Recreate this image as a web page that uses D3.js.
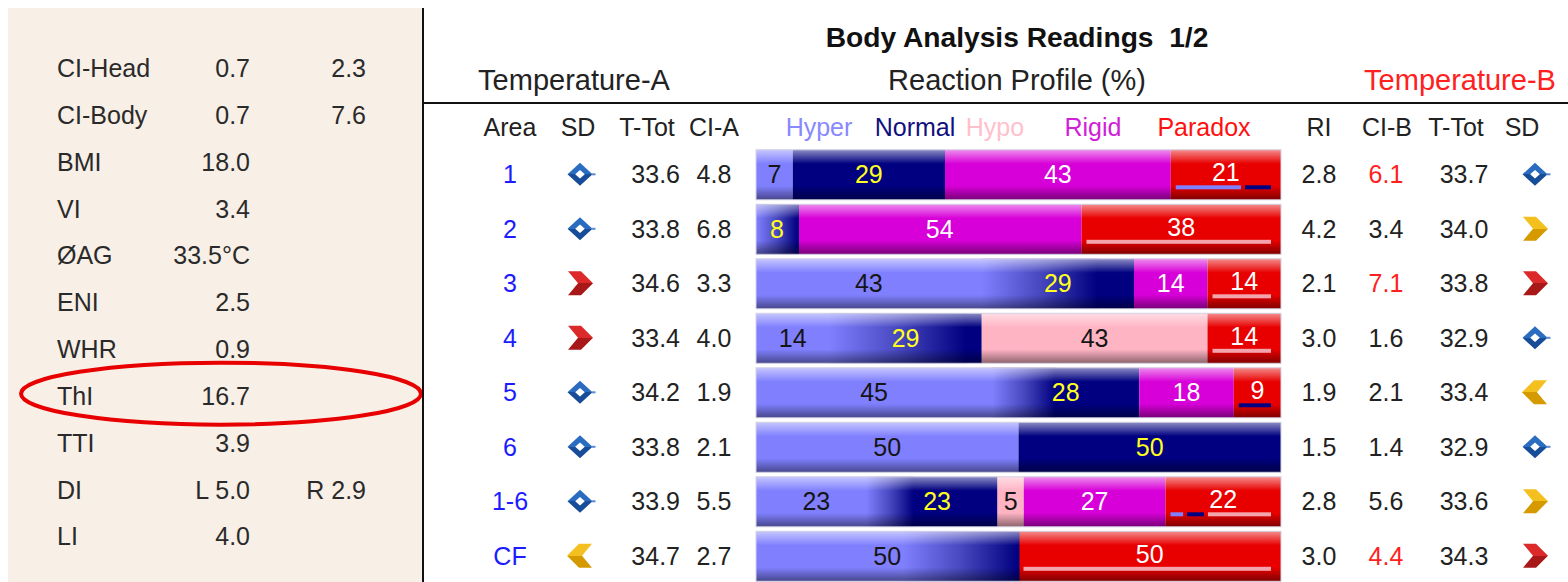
<!DOCTYPE html>
<html>
<head>
<meta charset="utf-8">
<script src="https://cdn.jsdelivr.net/npm/d3@7"></script>
<style>
html,body{margin:0;padding:0;background:#fff;}
svg{display:block;font-family:"Liberation Sans",Arial,sans-serif;}
</style>
</head>
<body>
<svg id="chart" width="1568" height="582"></svg>
<script>
// ---------- data ----------
const areas = ["1","2","3","4","5","6","1-6","CF"];
const sdA = ["diamond","diamond","redRight","redRight","diamond","diamond","diamond","yellowLeft"];
const tTotA = [33.6,33.8,34.6,33.4,34.2,33.8,33.9,34.7];
const ciA = [4.8,6.8,3.3,4.0,1.9,2.1,5.5,2.7];

const categories = ["Hyper","Normal","Hypo","Rigid","Paradox"];
const hyper   = [7,0,43,14,45,50,23,50];
const normal  = [29,8,29,29,28,50,23,0];
const hypo    = [0,0,0,43,0,0,5,0];
const rigid   = [43,54,14,0,18,0,27,0];
const paradox = [21,38,14,14,9,0,22,50];
// composition of the paradox share (underline markers)
const paradoxHyper  = [15,0,0,0,0,0,3,0];
const paradoxNormal = [6,0,0,0,9,0,4,0];
const paradoxOther  = [0,38,14,14,0,0,15,50];
// Hyper -> Normal transition zone (percent scale)
const blendStart = [null,0,43,14,45,null,21,28];
const blendEnd   = [null,8,65,40,57,null,30,50];

const ri   = [2.8,4.2,2.1,3.0,1.9,1.5,2.8,3.0];
const ciB  = [6.1,3.4,7.1,1.6,2.1,1.4,5.6,4.4];
const ciBFlag = [1,0,1,0,0,0,0,1];
const tTotB = [33.7,34.0,33.8,32.9,33.4,32.9,33.6,34.3];
const sdB = ["diamond","yellowRight","redRight","diamond","yellowLeft","diamond","yellowRight","redRight"];

const sideLabels = ["CI-Head","CI-Body","BMI","VI","ØAG","ENI","WHR","ThI","TTI","DI","LI"];
const sideValues = ["0.7","0.7","18.0","3.4","33.5°C","2.5","0.9","16.7","3.9","L 5.0","4.0"];
const sideExtra  = ["2.3","7.6","","","","","","","","R 2.9",""];
const highlighted = "ThI";

// ---------- styles ----------
const segColor = {Hyper:"#8080ff", Normal:"#000080", Hypo:"#ffb4c4", Rigid:"#d800d8", Paradox:"#e80000"};
const headColor = {Hyper:"#8888ff", Normal:"#101080", Hypo:"#ffc0cc", Rigid:"#d020d8", Paradox:"#ff1010"};
const labColor = {Hyper:"#151515", Normal:"#ffff20", Hypo:"#151515", Rigid:"#ffffff", Paradox:"#ffffff"};
const txt = "#222";
const FS = 25;
const HFS = 29;

const svg = d3.select("#chart");
const defs = svg.append("defs");

// ---------- left panel ----------
svg.append("rect").attr("x",8).attr("y",8).attr("width",415).attr("height",574).attr("fill","#f8efe6");
const ySide = d3.scalePoint().domain(sideLabels).range([68.3,536.7]);
const side = svg.append("g").attr("font-size",FS).attr("fill","#2a2a2a");
side.selectAll("text.lab").data(sideLabels).join("text").attr("class","lab")
  .attr("x",57).attr("y",d=>ySide(d)+FS*0.35).text(d=>d);
side.selectAll("text.val").data(sideLabels).join("text").attr("class","val")
  .attr("x",250).attr("text-anchor","end").attr("y",d=>ySide(d)+FS*0.35).text((d,i)=>sideValues[i]);
side.selectAll("text.ext").data(sideLabels).join("text").attr("class","ext")
  .attr("x",366).attr("text-anchor","end").attr("y",d=>ySide(d)+FS*0.35).text((d,i)=>sideExtra[i]);
svg.append("ellipse").attr("cx",221).attr("cy",ySide(highlighted)-2.5).attr("rx",200).attr("ry",31)
  .attr("fill","none").attr("stroke","#e80000").attr("stroke-width",4);

// separators
svg.append("line").attr("x1",423).attr("x2",423).attr("y1",8).attr("y2",582).attr("stroke","#111").attr("stroke-width",2);
svg.append("line").attr("x1",423).attr("x2",1568).attr("y1",103).attr("y2",103).attr("stroke","#111").attr("stroke-width",2);

// ---------- headers ----------
svg.append("text").attr("x",1017).attr("y",38+27*0.35).attr("text-anchor","middle")
  .attr("font-size",28.2).attr("font-weight","bold").attr("fill","#111")
  .style("white-space","pre").text("Body Analysis Readings  1/2");
svg.append("text").attr("x",574).attr("y",80+HFS*0.35).attr("text-anchor","middle").attr("font-size",HFS).attr("fill",txt).text("Temperature-A");
svg.append("text").attr("x",1017).attr("y",80+HFS*0.35).attr("text-anchor","middle").attr("font-size",HFS).attr("fill",txt).text("Reaction Profile (%)");
svg.append("text").attr("x",1460).attr("y",80+HFS*0.35).attr("text-anchor","middle").attr("font-size",HFS).attr("fill","#ff2020").text("Temperature-B");

const hy = 127 + FS*0.35;
const colHeads = [
  {t:"Area",x:510},{t:"SD",x:578},{t:"T-Tot",x:647},{t:"CI-A",x:714},
  {t:"RI",x:1319},{t:"CI-B",x:1387},{t:"T-Tot",x:1456},{t:"SD",x:1522}
];
svg.append("g").attr("font-size",FS).attr("fill",txt).selectAll("text").data(colHeads).join("text")
  .attr("x",d=>d.x).attr("y",hy).attr("text-anchor","middle").text(d=>d.t);
const catHeadX = {Hyper:819, Normal:915, Hypo:995, Rigid:1093, Paradox:1204};
svg.append("g").attr("font-size",FS).selectAll("text").data(categories).join("text")
  .attr("x",d=>catHeadX[d]).attr("y",hy).attr("text-anchor","middle").attr("fill",d=>headColor[d]).text(d=>d);

// ---------- rows ----------
const y = d3.scalePoint().domain(areas).range([174.3,555.8]);
const x = d3.scaleLinear().domain([0,100]).range([756,1281]);
const BH = 50;

// vertical 3D shading overlay
const sh = defs.append("linearGradient").attr("id","shade").attr("x1",0).attr("y1",0).attr("x2",0).attr("y2",1);
[[0,"#fff",0.55],[0.28,"#fff",0],[0.72,"#000",0],[1,"#000",0.45]].forEach(s=>
  sh.append("stop").attr("offset",s[0]).attr("stop-color",s[1]).attr("stop-opacity",s[2]));

const values = {Hyper:hyper, Normal:normal, Hypo:hypo, Rigid:rigid, Paradox:paradox};
const fmt = d3.format(".1f");

areas.forEach((a,i)=>{
  const cy = y(a);
  const top = cy - BH/2 + 0.5;
  const g = svg.append("g");
  // stacked segments
  let acc = 0;
  const segs = categories.map(c=>{ const s={c, v:values[c][i], x0:acc}; acc+=values[c][i]; return s; }).filter(s=>s.v>0);
  g.selectAll("rect.seg").data(segs).join("rect").attr("class","seg")
    .attr("x",s=>x(s.x0)).attr("width",s=>x(s.x0+s.v)-x(s.x0))
    .attr("y",top).attr("height",BH).attr("fill",s=>segColor[s.c]);
  // hyper -> normal transition
  if (blendStart[i] !== null) {
    const gid = "blend"+i;
    const lg = defs.append("linearGradient").attr("id",gid).attr("gradientUnits","userSpaceOnUse")
      .attr("x1",x(blendStart[i])).attr("x2",x(blendEnd[i])).attr("y1",0).attr("y2",0);
    lg.append("stop").attr("offset",0).attr("stop-color",segColor.Hyper);
    lg.append("stop").attr("offset",0.5).attr("stop-color","#4848c0");
    lg.append("stop").attr("offset",1).attr("stop-color",segColor.Normal);
    const bx0 = Math.max(x(0), x(blendStart[i])-1);
    const bx1 = x(blendEnd[i])+1;
    g.append("rect").attr("x",bx0).attr("width",bx1-bx0)
      .attr("y",top).attr("height",BH).attr("fill","url(#"+gid+")");
  }
  // shading + frame
  g.append("rect").attr("x",x(0)).attr("width",x(100)-x(0)).attr("y",top).attr("height",BH).attr("fill","url(#shade)");
  g.append("rect").attr("x",x(0)).attr("width",x(100)-x(0)).attr("y",top).attr("height",BH)
    .attr("fill","none").attr("stroke","#d4d4e4").attr("stroke-width",1);
  // paradox markers
  const pStart = 100 - paradox[i];
  const parts = [[paradoxHyper[i],segColor.Hyper],[paradoxNormal[i],segColor.Normal],[paradoxOther[i],"#f4a4ac"]].filter(p=>p[0]>0);
  if (parts.length) {
    const px0 = x(pStart)+5, px1 = x(100)-10, gap = 4;
    const avail = px1-px0-gap*(parts.length-1);
    const tot = d3.sum(parts,p=>p[0]);
    let cx = px0;
    parts.forEach(p=>{
      const w = avail*p[0]/tot;
      g.append("rect").attr("x",cx).attr("width",w).attr("y",cy+11).attr("height",4).attr("fill",p[1]);
      cx += w+gap;
    });
  }
  // labels
  g.selectAll("text.bl").data(segs).join("text").attr("class","bl")
    .attr("x",s=>x(s.x0+s.v/2)).attr("y",s=>cy+FS*0.35-(s.c==="Paradox"&&parts.length?2:0))
    .attr("text-anchor","middle").attr("font-size",FS).attr("fill",s=>labColor[s.c]).text(s=>s.v);

  // left columns
  const t = svg.append("g").attr("font-size",FS);
  t.append("text").attr("x",510).attr("y",cy+FS*0.35).attr("text-anchor","middle").attr("fill","#1c1cff").text(a);
  t.append("text").attr("x",680).attr("y",cy+FS*0.35).attr("text-anchor","end").attr("fill",txt).text(fmt(tTotA[i]));
  t.append("text").attr("x",714).attr("y",cy+FS*0.35).attr("text-anchor","middle").attr("fill",txt).text(fmt(ciA[i]));
  // right columns
  t.append("text").attr("x",1319).attr("y",cy+FS*0.35).attr("text-anchor","middle").attr("fill",txt).text(fmt(ri[i]));
  t.append("text").attr("x",1386).attr("y",cy+FS*0.35).attr("text-anchor","middle").attr("fill",ciBFlag[i]?"#ff2020":txt).text(fmt(ciB[i]));
  t.append("text").attr("x",1464).attr("y",cy+FS*0.35).attr("text-anchor","middle").attr("fill",txt).text(fmt(tTotB[i]));
  drawIcon(sdA[i],580,cy);
  drawIcon(sdB[i],1535,cy);
});

// ---------- icons ----------
function iconGrad(id,c1,c2){
  if (!defs.select("#"+id).empty()) return;
  const lg = defs.append("linearGradient").attr("id",id).attr("x1",0).attr("y1",0).attr("x2",0).attr("y2",1);
  lg.append("stop").attr("offset",0).attr("stop-color",c1);
  lg.append("stop").attr("offset",0.5).attr("stop-color",c1);
  lg.append("stop").attr("offset",0.5).attr("stop-color",c2);
  lg.append("stop").attr("offset",1).attr("stop-color",c2);
}
function drawIcon(kind,cx,cy){
  const g = svg.append("g").attr("transform",`translate(${cx},${cy})`);
  if (kind==="diamond"){
    iconGrad("gBlue","#2a6cc0","#164c98");
    g.append("path").attr("d","M0,-11.5 L12.5,0 L0,11.5 L-12.5,0 Z M0,-4.2 L-4.8,0 L0,4.2 L4.8,0 Z")
      .attr("fill","url(#gBlue)").attr("fill-rule","evenodd");
    g.append("rect").attr("x",11.5).attr("y",-1).attr("width",4).attr("height",2).attr("fill","#5a8ad0");
  } else {
    const red = kind.startsWith("red");
    const id = red ? "gRed" : "gYel";
    if (red) iconGrad(id,"#dc2a2a","#a81818"); else iconGrad(id,"#f4c020","#d49a00");
    const left = kind.endsWith("Left");
    g.append("path").attr("d","M-12,-12 L1,-12 L13,0 L1,12 L-12,12 L-2,0 Z")
      .attr("fill","url(#"+id+")").attr("transform",left?"scale(-1,1)":null);
  }
}
</script>
</body>
</html>
